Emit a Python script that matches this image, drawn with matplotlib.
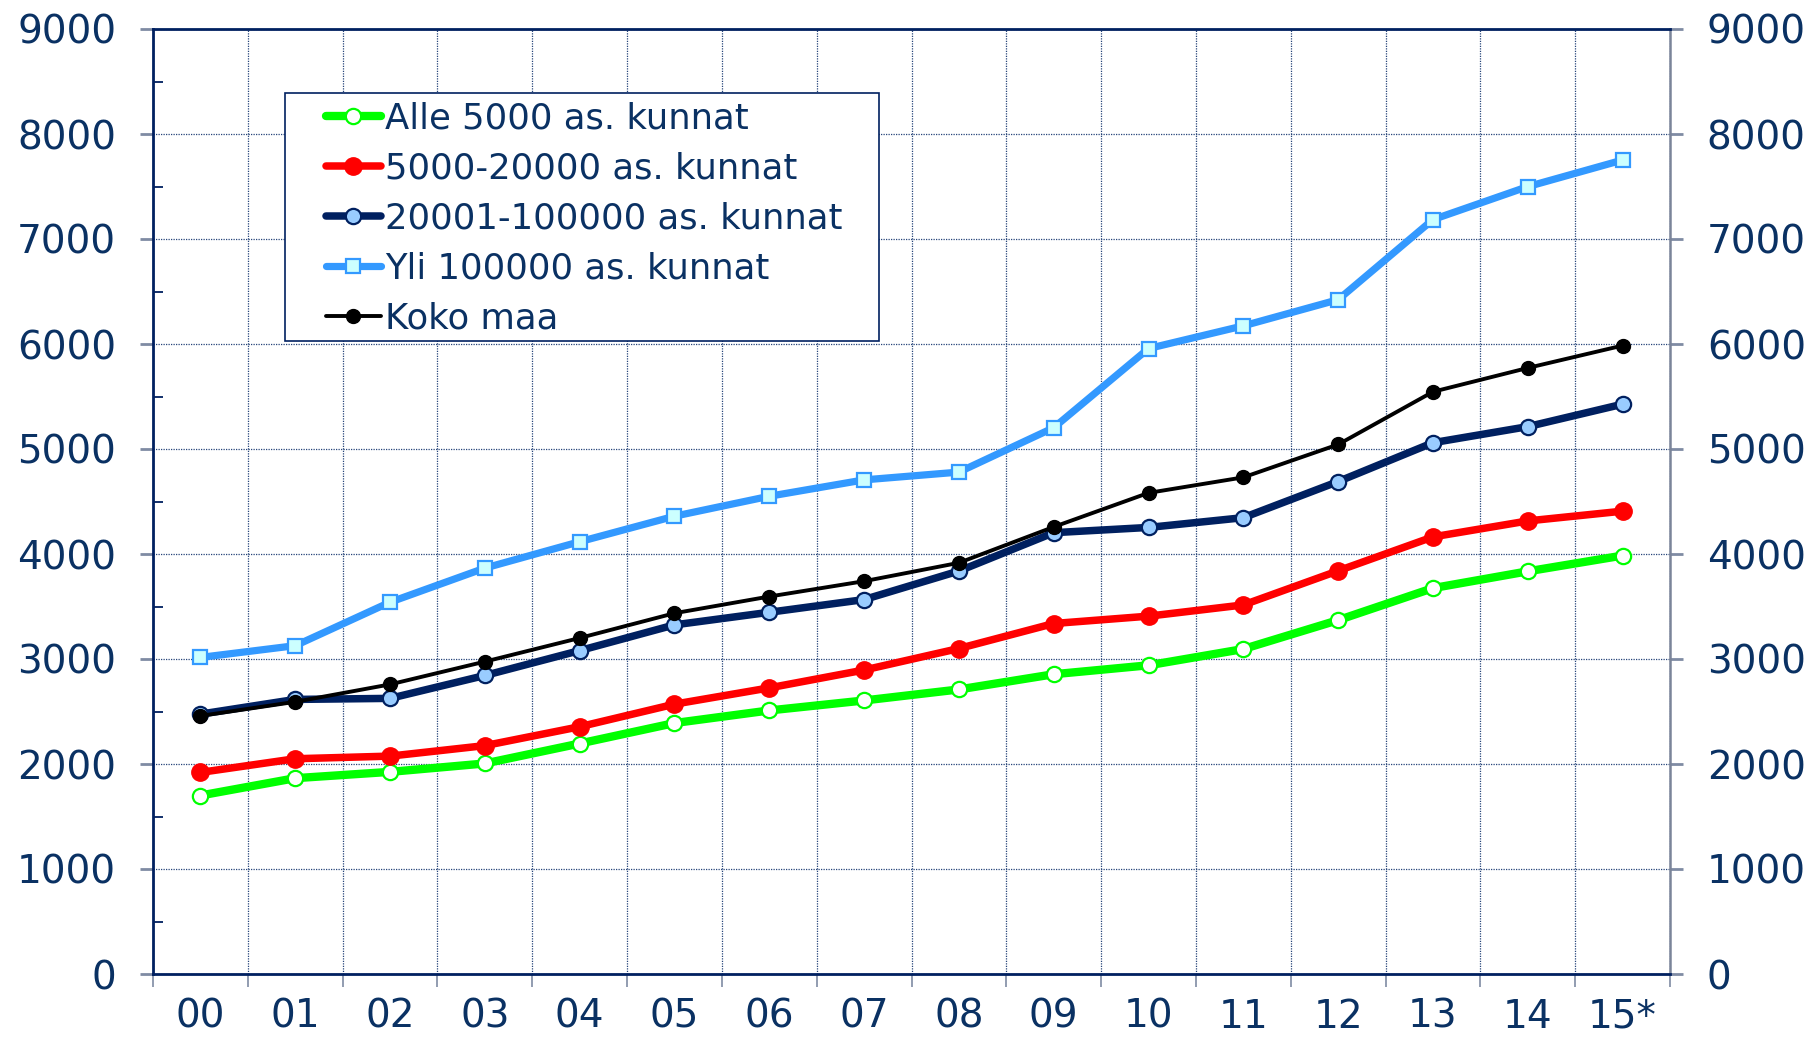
import matplotlib
matplotlib.use('Agg')
import matplotlib.pyplot as plt
from matplotlib.patches import Rectangle
from matplotlib.ticker import MultipleLocator, FixedLocator

# data
years = ['00', '01', '02', '03', '04', '05', '06', '07', '08', '09', '10', '11', '12', '13', '14', '15*']
alle_5000 = [1700, 1865, 1925, 2005, 2195, 2390, 2510, 2605, 2710, 2855, 2940, 3095, 3370, 3675, 3835, 3985]
as_5000_20000 = [1920, 2050, 2075, 2175, 2355, 2570, 2725, 2895, 3100, 3338, 3408, 3515, 3840, 4163, 4315, 4408]
as_20001_100000 = [2475, 2615, 2625, 2843, 3080, 3325, 3445, 3566, 3838, 4203, 4253, 4346, 4690, 5060, 5213, 5427]
yli_100000 = [3015, 3127, 3541, 3866, 4117, 4360, 4550, 4706, 4780, 5203, 5957, 6173, 6422, 7185, 7499, 7752]
koko_maa = [2458, 2592, 2758, 2975, 3200, 3436, 3595, 3741, 3916, 4258, 4582, 4730, 5043, 5545, 5772, 5985]

navy_txt = '#0a3163'
navy = '#002060'
grid_col = '#27457a'
tick_col = '#7f8ba3'

fig = plt.figure(figsize=(18.1, 10.37), dpi=100)
ax = fig.add_axes([153 / 1810, 63 / 1037, (1670 - 153) / 1810, (974 - 29) / 1037])

x = list(range(len(years)))

ax.plot(x, alle_5000, color='#00ff00', lw=6, marker='o', ms=11, solid_capstyle='round',
        mfc='white', mec='#00ff00', mew=1.6, label='Alle 5000 as. kunnat', zorder=3)
ax.plot(x, as_5000_20000, color='#ff0000', lw=5.4, marker='o', ms=12.5, solid_capstyle='round',
        mfc='#ff0000', mec='#ff0000', mew=1, label='5000-20000 as. kunnat', zorder=3)
ax.plot(x, as_20001_100000, color=navy, lw=5.4, marker='o', ms=11, solid_capstyle='round',
        mfc='#99ccff', mec=navy, mew=1.6, label='20001-100000 as. kunnat', zorder=3)
ax.plot(x, yli_100000, color='#3399ff', lw=5.2, marker='s', ms=10, solid_capstyle='round',
        mfc='#ccffff', mec='#3399ff', mew=1.6, label='Yli 100000 as. kunnat', zorder=3)
ax.plot(x, koko_maa, color='black', lw=2.8, marker='o', ms=10, solid_capstyle='round',
        mfc='black', mec='black', mew=1, label='Koko maa', zorder=3)

ax.set_xlim(-0.5, len(years) - 0.5)
ax.set_ylim(0, 9000)

# x axis: labels at centres, ticks/grid at boundaries
ax.set_xticks(x)
ax.set_xticklabels(years)
ax.xaxis.set_minor_locator(FixedLocator([i - 0.5 for i in range(len(years) + 1)]))
ax.tick_params(axis='x', which='major', length=0, pad=17, labelsize=28, labelcolor=navy_txt)
ax.tick_params(axis='x', which='minor', direction='out', length=9, width=1.2, color=tick_col)

# y axis: labels on both sides
ax.yaxis.set_major_locator(MultipleLocator(1000))
ax.yaxis.set_minor_locator(MultipleLocator(500))
ax.tick_params(axis='y', which='major', direction='out', length=9.5, width=2, color=tick_col,
               labelsize=28, labelcolor=navy_txt, left=True, right=True,
               labelleft=True, labelright=True, pad=17)
ax.tick_params(axis='y', which='minor', direction='in', length=7, width=1.3, color=navy,
               left=True, right=False)

ax.grid(True, axis='y', which='major', color=grid_col, lw=0.9, ls=(0, (1, 1)))
ax.grid(True, axis='x', which='minor', color=grid_col, lw=0.9, ls=(0, (1, 1)))
ax.grid(False, axis='x', which='major')

for side in ['left', 'top', 'bottom']:
    ax.spines[side].set_color(navy)
    ax.spines[side].set_linewidth(2)
ax.spines['right'].set_color('#7a8499')
ax.spines['right'].set_linewidth(1.8)

# legend box is wider on the left than matplotlib's padding allows, so draw it separately
ax.add_patch(Rectangle((0.087, 0.6698), 0.3916, 0.2625, transform=ax.transAxes,
                       facecolor='white', edgecolor=navy, lw=1.2, zorder=4))
leg = ax.legend(loc='upper left', bbox_to_anchor=(0.114, 0.9235), fontsize=25.5,
                frameon=False, handlelength=1.55, handletextpad=0.12,
                labelspacing=0.45, borderpad=0, borderaxespad=0)
leg.set_zorder(5)
for t in leg.get_texts():
    t.set_color(navy_txt)

fig.savefig('out.png', dpi=100)
